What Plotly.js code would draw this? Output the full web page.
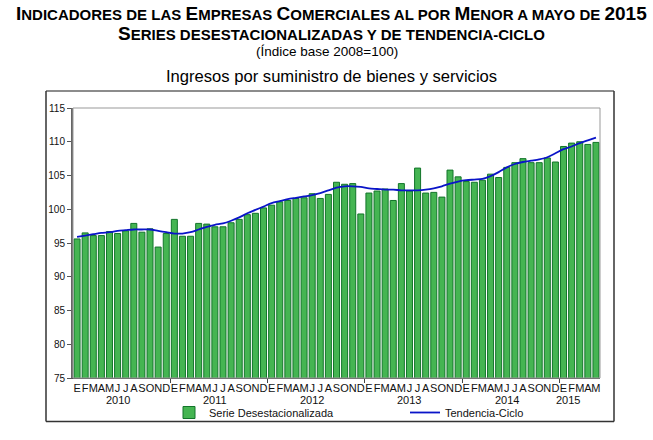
<!DOCTYPE html>
<html>
<head>
<meta charset="utf-8">
<script src="https://cdn.plot.ly/plotly-3.0.1.min.js"></script>
<style>
  html, body { margin: 0; padding: 0; background: #fff; }
  #chart { width: 653px; height: 440px; }
</style>
</head>
<body>
<div id="chart"></div>
<script>
// ---- data ----
const monthLetters = ['E','F','M','A','M','J','J','A','S','O','N','D'];
const years = [2010, 2011, 2012, 2013, 2014, 2015];
const monthsPerYear = [12, 12, 12, 12, 12, 5];

const serieDesestacionalizada = [
  // 2010
  95.6, 96.5, 96.1, 96.1, 96.7, 96.4, 96.8, 97.9, 96.6, 97.1, 94.4, 96.4,
  // 2011
  98.5, 96.0, 96.0, 97.9, 97.8, 97.4, 97.4, 98.0, 98.5, 99.2, 99.4, 100.2,
  // 2012
  100.6, 101.1, 101.3, 101.6, 101.7, 102.3, 101.6, 102.2, 104.0, 103.7, 103.8, 99.3,
  // 2013
  102.4, 102.7, 103.0, 101.3, 103.8, 102.7, 106.1, 102.4, 102.5, 101.8, 105.8, 104.8,
  // 2014
  104.1, 104.0, 104.3, 105.2, 104.7, 106.2, 106.9, 107.5, 106.9, 106.9, 107.6, 107.0,
  // 2015
  109.3, 109.8, 110.0, 109.6, 109.9
];

const tendenciaCiclo = [
  // 2010
  95.9, 96.1, 96.3, 96.5, 96.6, 96.8, 96.9, 97.0, 97.0, 97.0, 96.8, 96.6,
  // 2011
  96.4, 96.4, 96.6, 97.0, 97.4, 97.7, 97.9, 98.3, 98.8, 99.4, 99.9, 100.4,
  // 2012
  100.9, 101.2, 101.5, 101.7, 101.9, 102.1, 102.4, 102.8, 103.2, 103.4, 103.4, 103.3,
  // 2013
  103.1, 103.0, 102.9, 102.9, 102.8, 102.8, 102.8, 102.9, 103.1, 103.4, 103.8, 104.1,
  // 2014
  104.3, 104.4, 104.5, 104.9, 105.5, 106.2, 106.7, 107.0, 107.2, 107.4, 107.7, 108.3,
  // 2015
  108.9, 109.3, 109.8, 110.2, 110.6
];

// ---- derived ----
const idx = serieDesestacionalizada.map((_, i) => i);
const tickText = [];
monthsPerYear.forEach(n => { for (let m = 0; m < n; m++) tickText.push(monthLetters[m]); });

// geometry helpers (pixels -> paper)
const W = 653, H = 440;
const M = { l: 73, r: 53, t: 108, b: 62 };
const PW = W - M.l - M.r, PH = H - M.t - M.b;
const px = x => (x - M.l) / PW;
const py = y => (H - M.b - y) / PH;

const FONT = 'Arial, "Liberation Sans", Helvetica, sans-serif';

const B = 19, S = 15;
const sm = t => '<span style="font-size:' + S + 'px">' + t + '</span>';
const title1 = 'I' + sm('NDICADORES DE LAS ') + 'E' + sm('MPRESAS ') + 'C' + sm('OMERCIALES AL POR ') +
               'M' + sm('ENOR A MAYO DE ') + '2015';
const title2 = 'S' + sm('ERIES DESESTACIONALIZADAS Y DE TENDENCIA-CICLO');

// year label annotations
const annotations = [];
let start = 0;
years.forEach((yr, k) => {
  const n = monthsPerYear[k];
  const xc = n === 12 ? start + 5 : start + 0.5;
  annotations.push({
    x: xc, xref: 'x', y: py(399.5), yref: 'paper',
    text: String(yr), showarrow: false,
    font: { family: FONT, size: 11, color: '#111' },
    xanchor: 'center', yanchor: 'middle', borderpad: 0
  });
  start += n;
});
const boundaryTicks = [];
start = 0;
monthsPerYear.slice(0, -1).forEach(n => { start += n; boundaryTicks.push(start - 0.5); });

annotations.push(
  { x: px(331), xref: 'paper', y: py(13), yref: 'paper', text: title1, showarrow: false,
    font: { family: FONT, size: B, color: '#000', weight: 'bold' }, xanchor: 'center', yanchor: 'middle' },
  { x: px(331), xref: 'paper', y: py(33), yref: 'paper', text: title2, showarrow: false,
    font: { family: FONT, size: B, color: '#000', weight: 'bold' }, xanchor: 'center', yanchor: 'middle' },
  { x: px(327), xref: 'paper', y: py(51), yref: 'paper', text: '(Índice base 2008=100)', showarrow: false,
    font: { family: FONT, size: 13.5, color: '#000' }, xanchor: 'center', yanchor: 'middle' },
  { x: px(331), xref: 'paper', y: py(77), yref: 'paper', text: 'Ingresos por suministro de bienes y servicios', showarrow: false,
    font: { family: FONT, size: 16.6, color: '#000' }, xanchor: 'center', yanchor: 'middle' }
);

const traces = [
  {
    type: 'bar', name: 'Serie Desestacionalizada',
    x: idx, y: serieDesestacionalizada, width: 0.74,
    marker: { color: '#45b552', line: { color: '#12752a', width: 1 } },
    hoverinfo: 'y', legend: 'legend'
  },
  {
    type: 'scatter', mode: 'lines', name: 'Tendencia-Ciclo',
    x: idx, y: tendenciaCiclo,
    line: { color: '#0a14c8', width: 1.8, shape: 'spline', smoothing: 0.8 },
    hoverinfo: 'y', legend: 'legend2'
  },
  {
    type: 'scatter', mode: 'lines', x: [], y: [], xaxis: 'x2', showlegend: false, hoverinfo: 'skip'
  }
];

const legendFont = { family: FONT, size: 11, color: '#111' };
const frameColor = '#333';
const fx0 = px(46), fx1 = px(614), fy0 = py(421.5), fy1 = py(91);

const layout = {
  width: W, height: H,
  margin: M,
  paper_bgcolor: '#fff', plot_bgcolor: '#fff',
  showlegend: true,
  barmode: 'overlay',
  font: { family: FONT, size: 11, color: '#111' },
  xaxis: {
    range: [-0.5, idx.length - 0.5],
    tickmode: 'array', tickvals: idx, ticktext: tickText,
    ticks: '', showgrid: false, zeroline: false,
    showline: true, linecolor: '#555', linewidth: 1,
    tickfont: { family: FONT, size: 11, color: '#111' },
    tickangle: 0, fixedrange: true
  },
  xaxis2: {
    overlaying: 'x', anchor: 'y', side: 'bottom',
    range: [-0.5, idx.length - 0.5],
    tickmode: 'array', tickvals: boundaryTicks,
    ticks: 'outside', ticklen: 4, tickcolor: '#444', tickwidth: 1,
    showticklabels: false, showgrid: false, zeroline: false, showline: false
  },
  yaxis: {
    range: [75, 115], tickmode: 'linear', tick0: 75, dtick: 5,
    ticks: 'outside', ticklen: 4, tickcolor: '#555', tickwidth: 1,
    showgrid: false, zeroline: false,
    showline: true, linecolor: '#666', linewidth: 2,
    tickfont: { family: FONT, size: 10, color: '#111' },
    fixedrange: true
  },
  legend: {
    orientation: 'h', x: px(169), xanchor: 'left', y: py(412.5), yanchor: 'middle',
    font: legendFont, itemwidth: 30, bgcolor: 'rgba(0,0,0,0)'
  },
  legend2: {
    orientation: 'h', x: px(405), xanchor: 'left', y: py(412.5), yanchor: 'middle',
    font: legendFont, itemwidth: 30, bgcolor: 'rgba(0,0,0,0)'
  },
  shapes: [
    { type: 'rect', xref: 'paper', yref: 'paper', x0: 0, x1: 1, y0: 0, y1: 1,
      line: { color: '#999', width: 1 } },
    { type: 'line', xref: 'paper', yref: 'paper', x0: fx0, x1: fx1, y0: fy1, y1: fy1, line: { color: '#666', width: 1.5 }, layer: 'above' },
    { type: 'line', xref: 'paper', yref: 'paper', x0: fx0, x1: fx1, y0: fy0, y1: fy0, line: { color: frameColor, width: 1.5 }, layer: 'above' },
    { type: 'line', xref: 'paper', yref: 'paper', x0: fx0, x1: fx0, y0: fy0, y1: fy1, line: { color: frameColor, width: 1.5 }, layer: 'above' },
    { type: 'line', xref: 'paper', yref: 'paper', x0: fx1, x1: fx1, y0: fy0, y1: fy1, line: { color: frameColor, width: 1.5 }, layer: 'above' }
  ],
  annotations: annotations
};

Plotly.newPlot('chart', traces, layout, { staticPlot: true, displayModeBar: false });
</script>
</body>
</html>
